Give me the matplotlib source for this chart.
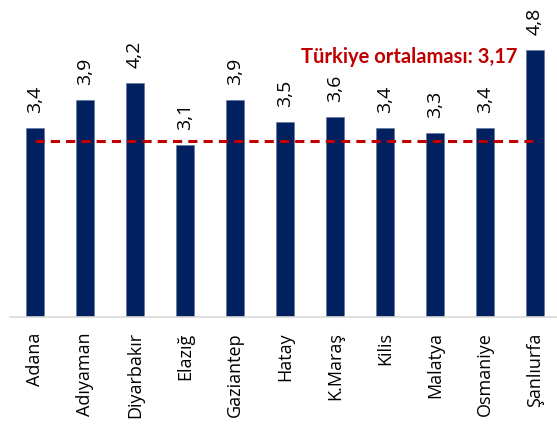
import matplotlib
matplotlib.use("Agg")
import matplotlib.pyplot as plt

categories = ["Adana", "Adıyaman", "Diyarbakır", "Elazığ", "Gaziantep", "Hatay",
              "K.Maraş", "Kilis", "Malatya", "Osmaniye", "Şanlıurfa"]
values = [3.4, 3.9, 4.2, 3.1, 3.9, 3.5, 3.6, 3.4, 3.3, 3.4, 4.8]
average = 3.17
avg_label = "Türkiye ortalaması: 3,17"

plt.rcParams['font.family'] = ['Open Sans', 'DejaVu Sans']

fig = plt.figure(figsize=(5.57, 4.26), dpi=100)
ax = fig.add_axes([10/557, 109/426, 547/557, 317/426])
x = list(range(len(categories)))
ax.bar(x, values, width=0.35, color="#002060", edgecolor="#5b6f9a", linewidth=0.4, zorder=2)
ax.plot([x[0], x[-1]], [average, average], color="#C00000", linestyle=(0, (3, 2)),
        linewidth=2.2, zorder=3)
for xi, v in zip(x, values):
    ax.text(xi, v + 0.27, f"{v:.1f}".replace(".", ","), rotation=90, ha="center",
            va="bottom", fontsize=14, color="black")
ax.text(9.65, 4.68, avg_label, ha="right", va="center", fontsize=14.5,
        fontweight="bold", color="#C00000", family=['Lato', 'DejaVu Sans'])
ax.set_xlim(-0.5, 10.44)
ax.set_ylim(0, 5.7)
ax.set_xticks(x)
ax.set_xticklabels(categories, rotation=90, fontsize=13)
ax.tick_params(axis="x", length=0, pad=11)
ax.set_yticks([])
for s in ["top", "right", "left"]:
    ax.spines[s].set_visible(False)
ax.spines["bottom"].set_color("#d9d9d9")
ax.spines["bottom"].set_linewidth(1.2)
fig.savefig("out.png", dpi=100)
